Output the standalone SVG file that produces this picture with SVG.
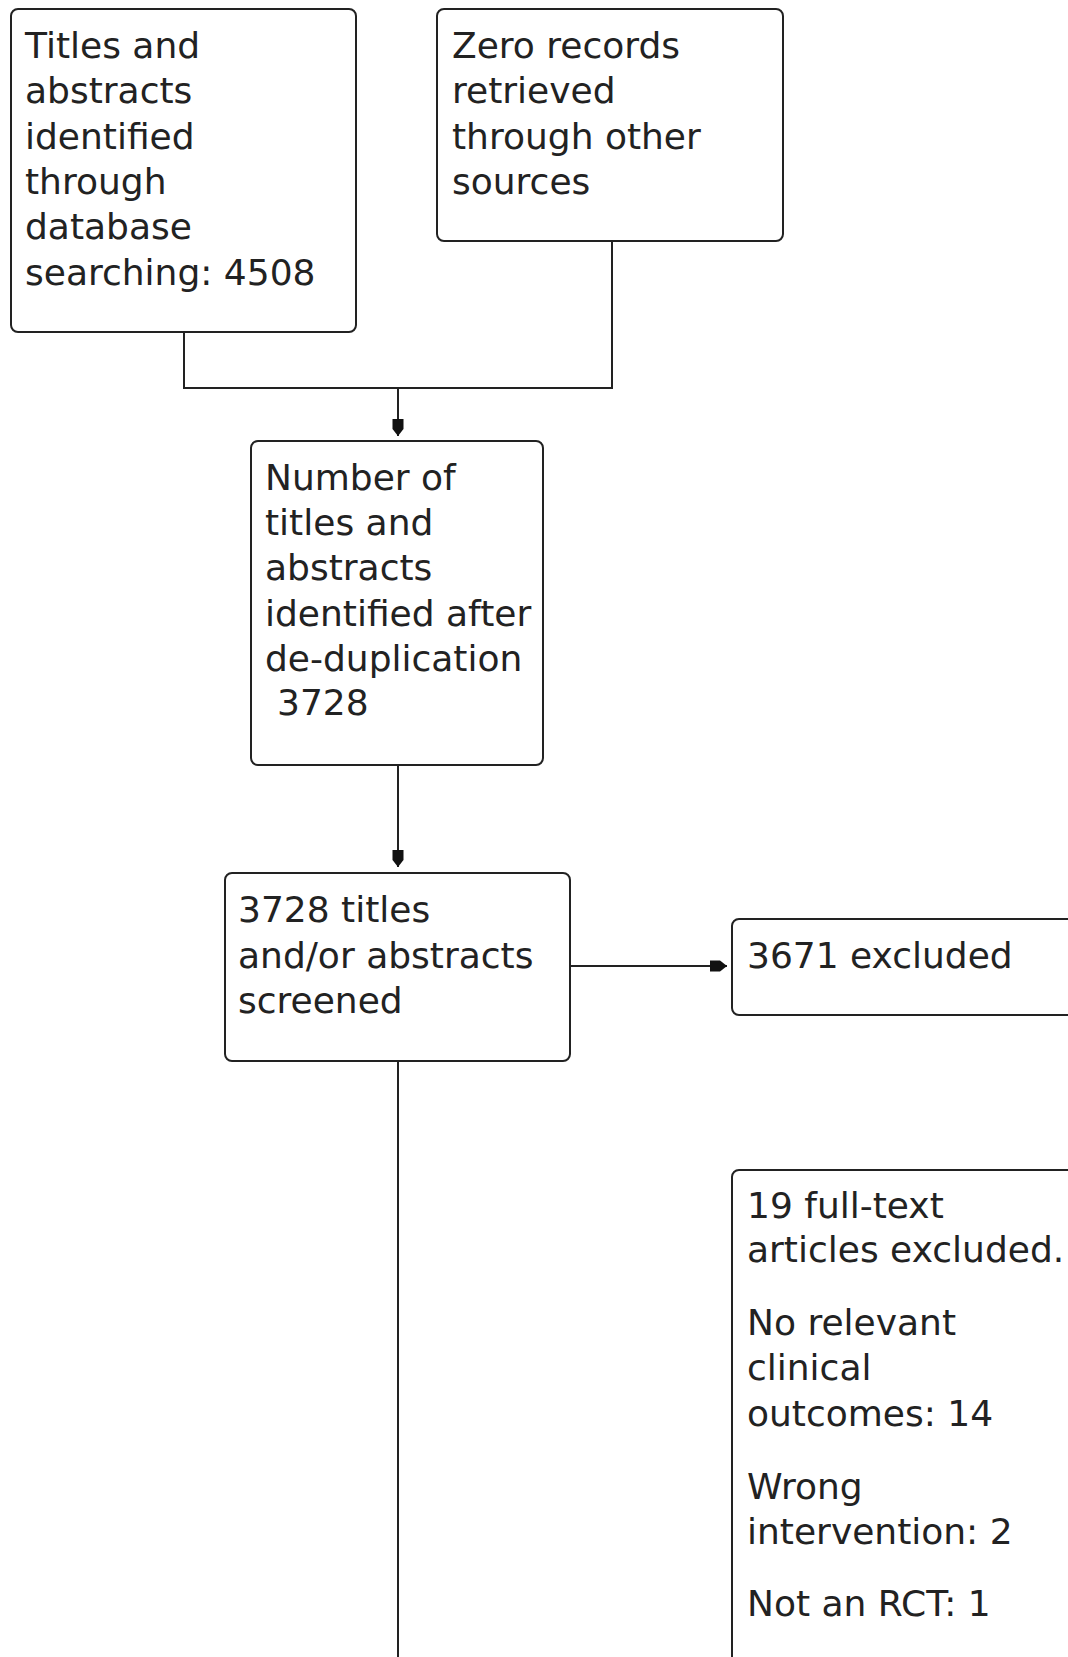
<svg xmlns="http://www.w3.org/2000/svg" width="1068" height="1657" viewBox="0 0 1068 1657">
<style>
.box{fill:#fff;stroke:#222;stroke-width:2}
.t{font-family:"DejaVu Sans",Verdana,sans-serif;font-size:36px;fill:#222}
.c{fill:none;stroke:#222;stroke-width:2}
</style>
<defs>
<marker id="ah" markerWidth="18" markerHeight="14" refX="17" refY="7" orient="auto" markerUnits="userSpaceOnUse">
<path d="M0,1.5 L10,1.5 L17,7 L10,12.5 L0,12.5 Z" fill="#111"/>
</marker>
</defs>
<rect width="1068" height="1657" fill="#fff"/>
<g id="connectors">
<path class="c" d="M184,332 V388 H612 V241"/>
<path class="c" d="M398,388 V436" marker-end="url(#ah)"/>
<path class="c" d="M398,765 V867" marker-end="url(#ah)"/>
<path class="c" d="M570,966 H727" marker-end="url(#ah)"/>
<path class="c" d="M398,1061 V1660"/>
</g>
<g id="n1">
<rect class="box" x="11" y="9" width="345" height="323" rx="7"/>
<text class="t"><tspan x="25" y="58">Titles and</tspan><tspan x="25" y="103">abstracts</tspan><tspan x="25" y="149">identified</tspan><tspan x="25" y="194">through</tspan><tspan x="25" y="239">database</tspan><tspan x="25" y="285">searching: 4508</tspan></text>
</g>
<g id="n2">
<rect class="box" x="437" y="9" width="346" height="232" rx="7"/>
<text class="t"><tspan x="452" y="58">Zero records</tspan><tspan x="452" y="103">retrieved</tspan><tspan x="452" y="149">through other</tspan><tspan x="452" y="194">sources</tspan></text>
</g>
<g id="n3">
<rect class="box" x="251" y="441" width="292" height="324" rx="7"/>
<text class="t"><tspan x="265" y="490">Number of</tspan><tspan x="265" y="535">titles and</tspan><tspan x="265" y="580">abstracts</tspan><tspan x="265" y="626">identified after</tspan><tspan x="265" y="671">de-duplication</tspan><tspan x="277" y="715">3728</tspan></text>
</g>
<g id="n4">
<rect class="box" x="225" y="873" width="345" height="188" rx="7"/>
<text class="t"><tspan x="238" y="922">3728 titles</tspan><tspan x="238" y="968">and/or abstracts</tspan><tspan x="238" y="1013">screened</tspan></text>
</g>
<g id="n5">
<rect class="box" x="732" y="919" width="400" height="96" rx="7"/>
<text class="t" x="747" y="968">3671 excluded</text>
</g>
<g id="n6">
<rect class="box" x="732" y="1170" width="400" height="560" rx="7"/>
<text class="t"><tspan x="747" y="1218">19 full-text</tspan><tspan x="747" y="1262">articles excluded.</tspan><tspan x="747" y="1335">No relevant</tspan><tspan x="747" y="1380">clinical</tspan><tspan x="747" y="1426">outcomes: 14</tspan><tspan x="747" y="1499">Wrong</tspan><tspan x="747" y="1544">intervention: 2</tspan><tspan x="747" y="1616">Not an RCT: 1</tspan></text>
</g>
</svg>
